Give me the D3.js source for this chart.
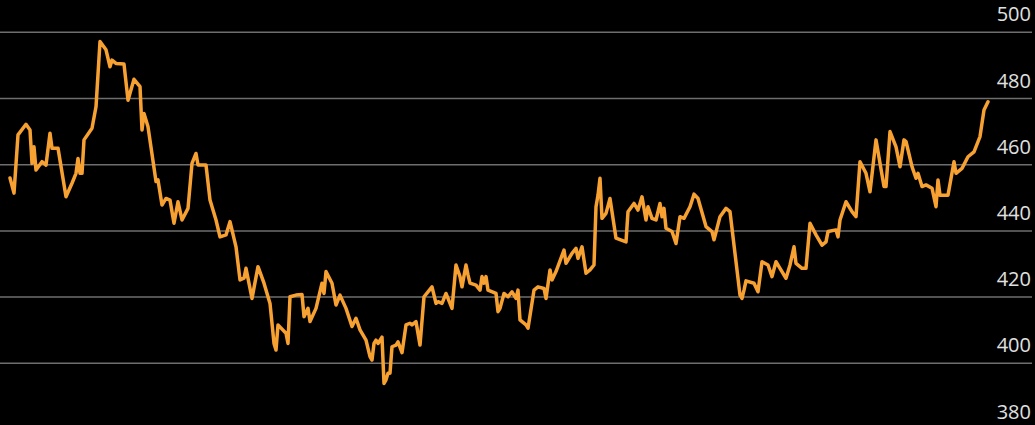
<!DOCTYPE html>
<html>
<head>
<meta charset="utf-8">
<script src="https://cdn.jsdelivr.net/npm/d3@7"></script>
<style>
  html, body { margin: 0; padding: 0; background: #000; }
  svg { display: block; }
</style>
</head>
<body>
<div id="chart"></div>
<script>

// data: day index and closing value
var days = [0,2,4,8,10,11,12,13,16,18,20,21,24,28,31,33,34,35,36,37,41,43,45,48,50,51,53,57,59,62,65,66,67,69,73,74,76,78,80,82,84,86,89,91,93,94,98,100,103,105,108,110,113,115,117,118,121,124,127,130,132,133,134,138,139,140,143,146,147,149,150,153,156,157,158,161,163,165,168,171,173,175,178,180,181,182,183,184,186,187,188,189,190,191,193,194,196,198,200,201,203,205,207,209,211,213,214,216,218,221,223,225,226,228,229,230,233,235,236,237,238,239,243,244,245,247,249,251,253,254,255,258,259,262,264,267,268,270,271,273,277,278,281,283,284,286,288,290,292,293,294,295,296,298,300,303,308,309,312,314,316,318,319,321,323,325,326,327,328,331,333,335,337,340,342,344,348,351,352,355,358,360,365,366,367,368,372,374,376,379,381,383,385,388,390,392,393,396,398,400,403,406,408,409,413,414,415,418,421,423,425,428,430,433,437,438,440,443,445,447,448,451,453,454,456,458,461,463,464,465,469,472,473,476,479,482,485,487,489];

var values = [456.0,451.4,469.0,472.2,470.5,460.4,465.4,458.4,460.9,459.9,469.5,465.0,465.0,450.3,454.4,457.4,461.9,457.4,457.4,467.5,471.0,477.5,497.2,494.7,489.6,491.6,490.6,490.4,479.5,485.8,483.6,470.5,475.5,471.5,454.9,455.4,447.8,449.8,449.3,442.3,448.8,443.3,446.8,460.4,463.4,459.9,459.9,449.3,443.3,438.2,438.8,442.8,435.2,425.2,425.7,428.7,419.6,429.2,424.2,418.1,406.0,404.0,411.6,409.1,406.0,420.1,420.6,420.8,414.1,416.6,412.6,416.6,424.2,421.1,427.7,424.2,417.6,420.6,416.6,411.1,413.6,410.1,407.0,402.0,401.0,406.0,407.0,406.0,407.9,393.9,395.0,397.0,397.0,405.0,405.5,406.5,403.2,411.6,412.1,411.6,412.6,405.5,420.1,421.6,423.1,418.1,418.6,418.1,421.1,416.6,429.7,426.2,423.1,429.7,426.7,424.2,423.6,422.1,426.2,424.2,426.2,422.1,421.1,415.6,416.6,421.1,420.1,421.6,419.6,422.1,413.1,411.6,410.6,422.1,423.1,422.6,419.6,428.2,425.2,427.7,434.2,430.2,433.2,434.7,431.7,435.2,427.2,428.2,429.7,447.3,450.8,455.9,443.8,445.3,449.8,437.8,436.7,445.8,448.3,446.3,450.3,443.3,447.3,443.8,443.3,448.3,444.3,446.8,440.8,439.8,436.2,444.3,443.8,447.3,451.1,449.8,441.3,439.8,437.3,444.3,446.8,445.8,420.6,419.6,422.1,424.9,424.2,421.6,430.7,429.7,426.2,430.7,428.7,425.7,429.7,435.2,430.2,428.7,428.7,442.3,438.8,435.7,436.7,439.8,440.3,438.2,443.3,448.8,445.8,444.3,460.9,457.4,451.8,467.5,453.4,453.4,470.0,465.4,459.4,467.5,467.0,459.4,455.9,457.4,453.4,453.9,452.9,447.3,455.4,450.8,450.8,460.9,457.4,458.9,462.4,463.9,468.5,476.5,479.0];

// y axis ticks
var yTicks = [500, 480, 460, 440, 420, 400, 380];


// svg size
var w_svg = 1035;
var h_svg = 425;

var svg = d3.select("#chart")
  .append("svg")
    .attr("width", w_svg)
    .attr("height", h_svg)
    .style("background", "#000");

// scales
var xScale = d3.scaleLinear().domain([0, 489]).range([10, 988]);
var yScale = d3.scaleLinear().domain([380, 500]).range([429.5, 32.3]);

// gridlines and labels
var grid = svg.append("g");

grid.selectAll("line")
  .data(yTicks)
  .enter()
  .append("line")
    .attr("x1", 0)
    .attr("x2", 1032)
    .attr("y1", function(d) { return yScale(d); })
    .attr("y2", function(d) { return yScale(d); })
    .attr("stroke", "#6e6e6e")
    .attr("stroke-width", 1.5);

grid.selectAll("text")
  .data(yTicks)
  .enter()
  .append("text")
    .attr("x", 1031)
    .attr("y", function(d) { return yScale(d) - 11; })
    .attr("text-anchor", "end")
    .style("font-family", "'Open Sans', 'Noto Sans', sans-serif")
    .style("font-size", "20px")
    .style("fill", "#e0e0e0")
    .text(function(d) { return d; });

// the line
var points = days.map(function(d, i) { return [d, values[i]]; });

var line = d3.line()
  .x(function(d) { return xScale(d[0]); })
  .y(function(d) { return yScale(d[1]); });

svg.append("path")
  .datum(points)
  .attr("d", line)
  .attr("fill", "none")
  .attr("stroke", "#f7a133")
  .attr("stroke-width", 3.5)
  .attr("stroke-linejoin", "round")
  .attr("stroke-linecap", "round");

</script>
</body>
</html>
